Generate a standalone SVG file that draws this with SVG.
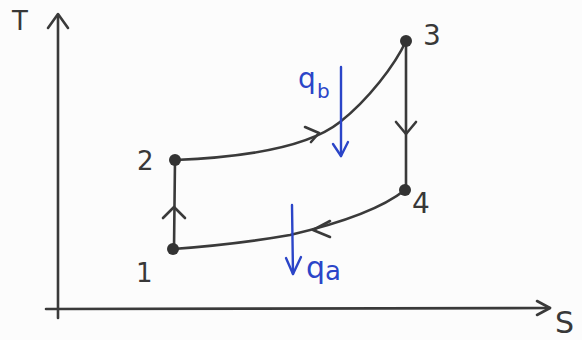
<svg xmlns="http://www.w3.org/2000/svg" width="582" height="340" viewBox="0 0 582 340">
<style>
.ln{fill:none;stroke:#3a3a3a;stroke-width:2.6;stroke-linecap:round;stroke-linejoin:round}
.bl{fill:none;stroke:#2b45c8;stroke-width:2.4;stroke-linecap:round;stroke-linejoin:round}
.dot{fill:#333}
.lab{font-family:"DejaVu Sans","Liberation Sans",sans-serif;fill:#383838}
.blab{font-family:"DejaVu Sans","Liberation Sans",sans-serif;fill:#2b45c8}
</style>
<rect width="582" height="340" fill="#fcfcfc"/>
<g id="axes">
<path class="ln" d="M58,15 L58,318"/>
<path class="ln" d="M48,28 L58,14 L68,28"/>
<path class="ln" d="M46,309 L550,308"/>
<path class="ln" d="M537,301 L550,308 L537,315"/>
<text class="lab" x="12" y="30" font-size="26">T</text>
<text class="lab" x="555" y="333" font-size="30">S</text>
</g>
<g id="connectors">
<path class="ln" d="M175,160 C250,157 310,146 340,122 C368,100 395,65 406,41"/>
<path class="ln" d="M305,127 L319,133 L311,142"/>
<path class="ln" d="M406,41 L406,190"/>
<path class="ln" d="M396,122 L406,134 L416,122"/>
<path class="ln" d="M405,190 C375,214 320,228 290,235 C250,242 200,247 173,249"/>
<path class="ln" d="M330,221 L313,230 L330,237"/>
<path class="ln" d="M174,249 L175,160"/>
<path class="ln" d="M163,218 L174,207 L185,218"/>
</g>
<g id="p1"><circle class="dot" cx="173" cy="249" r="6"/><text class="lab" x="136" y="282" font-size="26">1</text></g>
<g id="p2"><circle class="dot" cx="175" cy="160" r="6"/><text class="lab" x="137" y="170" font-size="26">2</text></g>
<g id="p3"><circle class="dot" cx="406" cy="41" r="6"/><text class="lab" x="423" y="45" font-size="28">3</text></g>
<g id="p4"><circle class="dot" cx="405" cy="190" r="6"/><text class="lab" x="412" y="213" font-size="28">4</text></g>
<g id="qb">
<path class="bl" d="M341,67 L341,156"/>
<path class="bl" d="M333,144 L341,156 L348,142"/>
<text class="blab" x="298" y="88" font-size="28">q</text>
<text class="blab" x="317" y="98" font-size="20">b</text>
</g>
<g id="qa">
<path class="bl" d="M292,205 L293,274"/>
<path class="bl" d="M286,258 L293,274 L301,257"/>
<text class="blab" x="306" y="278" font-size="30">q</text>
<text class="blab" x="325" y="280" font-size="26">a</text>
</g>
</svg>
